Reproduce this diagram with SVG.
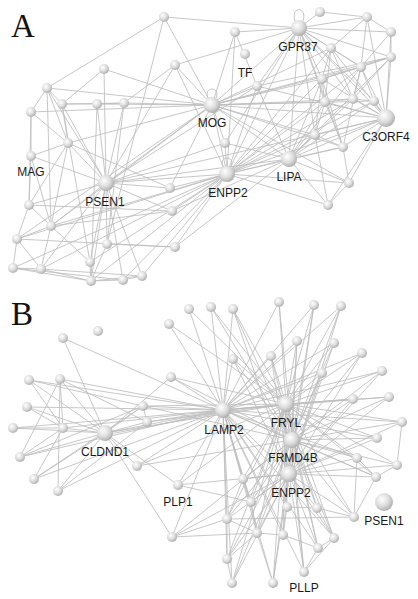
<svg xmlns="http://www.w3.org/2000/svg" width="418" height="599" viewBox="0 0 418 599">
<defs>
<radialGradient id="g" cx="0.38" cy="0.35" r="0.7">
<stop offset="0" stop-color="#ffffff"/>
<stop offset="0.55" stop-color="#dcdcdc"/>
<stop offset="1" stop-color="#a9a9a9"/>
</radialGradient>
</defs>
<style>
.e line{stroke:#bdbdbd;stroke-width:0.85}
.lp{fill:none;stroke:#bdbdbd;stroke-width:0.9}
circle{fill:url(#g)}
.lb{font-family:"Liberation Sans",Arial,sans-serif;font-size:12px;fill:#1a1a1a;text-anchor:middle}
.pl{font-family:"Liberation Serif","Times New Roman",serif;font-size:33px;fill:#111}
</style>
<rect width="418" height="599" fill="#fff"/>
<text class="pl" x="11" y="37">A</text>
<text class="pl" x="11" y="325">B</text>
<g id="connectors" class="e">
<!-- A: PSEN1 -->
<line x1="106" y1="183" x2="68" y2="143"/><line x1="106" y1="183" x2="31" y2="156"/><line x1="106" y1="183" x2="62" y2="104"/><line x1="106" y1="183" x2="97" y2="104"/><line x1="106" y1="183" x2="124" y2="103"/><line x1="106" y1="183" x2="47" y2="88"/><line x1="106" y1="183" x2="104" y2="69"/><line x1="106" y1="183" x2="175" y2="65"/><line x1="106" y1="183" x2="29" y2="205"/><line x1="106" y1="183" x2="51" y2="226"/><line x1="106" y1="183" x2="107" y2="244"/><line x1="106" y1="183" x2="90" y2="262"/><line x1="106" y1="183" x2="91" y2="281"/><line x1="106" y1="183" x2="123" y2="280"/><line x1="106" y1="183" x2="142" y2="276"/><line x1="106" y1="183" x2="170" y2="188"/><line x1="106" y1="183" x2="172" y2="211"/><line x1="106" y1="183" x2="212" y2="105"/><line x1="106" y1="183" x2="227" y2="174"/><line x1="106" y1="183" x2="289" y2="159"/><line x1="106" y1="183" x2="225" y2="143"/><line x1="106" y1="183" x2="257" y2="86"/><line x1="106" y1="183" x2="386" y2="118"/><line x1="106" y1="183" x2="41" y2="269"/>
<!-- A: MOG -->
<line x1="212" y1="105" x2="164" y2="17"/><line x1="212" y1="105" x2="175" y2="65"/><line x1="212" y1="105" x2="104" y2="69"/><line x1="212" y1="105" x2="47" y2="88"/><line x1="212" y1="105" x2="31" y2="112"/><line x1="212" y1="105" x2="124" y2="103"/><line x1="212" y1="105" x2="97" y2="104"/><line x1="212" y1="105" x2="68" y2="143"/><line x1="212" y1="105" x2="235" y2="32"/><line x1="212" y1="105" x2="257" y2="86"/><line x1="212" y1="105" x2="299" y2="28"/><line x1="212" y1="105" x2="331" y2="48"/><line x1="212" y1="105" x2="361" y2="67"/><line x1="212" y1="105" x2="322" y2="79"/><line x1="212" y1="105" x2="325" y2="102"/><line x1="212" y1="105" x2="353" y2="99"/><line x1="212" y1="105" x2="374" y2="101"/><line x1="212" y1="105" x2="386" y2="118"/><line x1="212" y1="105" x2="315" y2="135"/><line x1="212" y1="105" x2="225" y2="143"/><line x1="212" y1="105" x2="227" y2="174"/><line x1="212" y1="105" x2="289" y2="159"/><line x1="212" y1="105" x2="343" y2="147"/><line x1="212" y1="105" x2="391" y2="57"/><line x1="212" y1="105" x2="170" y2="188"/><line x1="212" y1="105" x2="51" y2="226"/><line x1="212" y1="105" x2="17" y2="239"/><line x1="212" y1="105" x2="349" y2="183"/>
<!-- A: ENPP2 -->
<line x1="227" y1="174" x2="225" y2="143"/><line x1="227" y1="174" x2="257" y2="86"/><line x1="227" y1="174" x2="170" y2="188"/><line x1="227" y1="174" x2="172" y2="211"/><line x1="227" y1="174" x2="175" y2="247"/><line x1="227" y1="174" x2="142" y2="276"/><line x1="227" y1="174" x2="123" y2="280"/><line x1="227" y1="174" x2="91" y2="281"/><line x1="227" y1="174" x2="41" y2="269"/><line x1="227" y1="174" x2="13" y2="268"/><line x1="227" y1="174" x2="17" y2="239"/><line x1="227" y1="174" x2="51" y2="226"/><line x1="227" y1="174" x2="90" y2="262"/><line x1="227" y1="174" x2="289" y2="159"/><line x1="227" y1="174" x2="386" y2="118"/><line x1="227" y1="174" x2="374" y2="101"/><line x1="227" y1="174" x2="353" y2="99"/><line x1="227" y1="174" x2="325" y2="102"/><line x1="227" y1="174" x2="322" y2="79"/><line x1="227" y1="174" x2="361" y2="67"/><line x1="227" y1="174" x2="343" y2="147"/><line x1="227" y1="174" x2="315" y2="135"/><line x1="227" y1="174" x2="349" y2="183"/><line x1="227" y1="174" x2="328" y2="205"/><line x1="227" y1="174" x2="299" y2="28"/><line x1="227" y1="174" x2="331" y2="48"/><line x1="227" y1="174" x2="175" y2="65"/><line x1="227" y1="174" x2="235" y2="32"/>
<!-- A: LIPA -->
<line x1="289" y1="159" x2="349" y2="183"/><line x1="289" y1="159" x2="328" y2="205"/><line x1="289" y1="159" x2="343" y2="147"/><line x1="289" y1="159" x2="315" y2="135"/><line x1="289" y1="159" x2="386" y2="118"/><line x1="289" y1="159" x2="353" y2="99"/><line x1="289" y1="159" x2="325" y2="102"/><line x1="289" y1="159" x2="322" y2="79"/><line x1="289" y1="159" x2="257" y2="86"/><line x1="289" y1="159" x2="299" y2="28"/><line x1="289" y1="159" x2="374" y2="101"/><line x1="289" y1="159" x2="361" y2="67"/><line x1="289" y1="159" x2="391" y2="57"/><line x1="289" y1="159" x2="225" y2="143"/><line x1="289" y1="159" x2="172" y2="211"/><line x1="289" y1="159" x2="175" y2="247"/>
<!-- A: GPR37 -->
<line x1="299" y1="28" x2="320" y2="12"/><line x1="299" y1="28" x2="235" y2="32"/><line x1="299" y1="28" x2="367" y2="17"/><line x1="299" y1="28" x2="391" y2="32"/><line x1="299" y1="28" x2="331" y2="48"/><line x1="299" y1="28" x2="391" y2="57"/><line x1="299" y1="28" x2="361" y2="67"/><line x1="299" y1="28" x2="322" y2="79"/><line x1="299" y1="28" x2="325" y2="102"/><line x1="299" y1="28" x2="353" y2="99"/><line x1="299" y1="28" x2="374" y2="101"/><line x1="299" y1="28" x2="386" y2="118"/><line x1="299" y1="28" x2="315" y2="135"/><line x1="299" y1="28" x2="257" y2="86"/><line x1="299" y1="28" x2="164" y2="17"/><line x1="299" y1="28" x2="175" y2="65"/><line x1="299" y1="28" x2="225" y2="143"/><line x1="299" y1="28" x2="343" y2="147"/>
<!-- A: C3ORF4 -->
<line x1="386" y1="118" x2="367" y2="17"/><line x1="386" y1="118" x2="391" y2="32"/><line x1="386" y1="118" x2="331" y2="48"/><line x1="386" y1="118" x2="391" y2="57"/><line x1="386" y1="118" x2="361" y2="67"/><line x1="386" y1="118" x2="322" y2="79"/><line x1="386" y1="118" x2="325" y2="102"/><line x1="386" y1="118" x2="353" y2="99"/><line x1="386" y1="118" x2="374" y2="101"/><line x1="386" y1="118" x2="315" y2="135"/><line x1="386" y1="118" x2="343" y2="147"/><line x1="386" y1="118" x2="349" y2="183"/><line x1="386" y1="118" x2="328" y2="205"/><line x1="386" y1="118" x2="257" y2="86"/>
<!-- A: right local -->
<line x1="367" y1="17" x2="391" y2="32"/><line x1="367" y1="17" x2="331" y2="48"/><line x1="367" y1="17" x2="361" y2="67"/><line x1="391" y1="32" x2="391" y2="57"/><line x1="391" y1="32" x2="361" y2="67"/><line x1="331" y1="48" x2="361" y2="67"/><line x1="331" y1="48" x2="322" y2="79"/><line x1="331" y1="48" x2="325" y2="102"/><line x1="391" y1="57" x2="361" y2="67"/><line x1="391" y1="57" x2="322" y2="79"/><line x1="361" y1="67" x2="322" y2="79"/><line x1="322" y1="79" x2="325" y2="102"/><line x1="325" y1="102" x2="353" y2="99"/><line x1="353" y1="99" x2="374" y2="101"/><line x1="361" y1="67" x2="374" y2="101"/><line x1="361" y1="67" x2="353" y2="99"/><line x1="315" y1="135" x2="343" y2="147"/><line x1="343" y1="147" x2="349" y2="183"/><line x1="349" y1="183" x2="328" y2="205"/><line x1="315" y1="135" x2="328" y2="205"/><line x1="235" y1="32" x2="257" y2="86"/><line x1="320" y1="12" x2="367" y2="17"/><line x1="322" y1="79" x2="315" y2="135"/><line x1="325" y1="102" x2="315" y2="135"/><line x1="331" y1="48" x2="353" y2="99"/><line x1="391" y1="57" x2="353" y2="99"/><line x1="391" y1="57" x2="257" y2="86"/><line x1="361" y1="67" x2="343" y2="147"/><line x1="325" y1="102" x2="343" y2="147"/><line x1="322" y1="79" x2="343" y2="147"/>
<!-- A: left local -->
<line x1="47" y1="88" x2="62" y2="104"/><line x1="47" y1="88" x2="31" y2="112"/><line x1="47" y1="88" x2="68" y2="143"/><line x1="62" y1="104" x2="68" y2="143"/><line x1="62" y1="104" x2="97" y2="104"/><line x1="97" y1="104" x2="124" y2="103"/><line x1="31" y1="112" x2="68" y2="143"/><line x1="31" y1="112" x2="31" y2="156"/><line x1="31" y1="112" x2="29" y2="205"/><line x1="31" y1="156" x2="29" y2="205"/><line x1="31" y1="156" x2="51" y2="226"/><line x1="29" y1="205" x2="51" y2="226"/><line x1="29" y1="205" x2="17" y2="239"/><line x1="51" y1="226" x2="17" y2="239"/><line x1="51" y1="226" x2="41" y2="269"/><line x1="17" y1="239" x2="13" y2="268"/><line x1="17" y1="239" x2="41" y2="269"/><line x1="13" y1="268" x2="41" y2="269"/><line x1="13" y1="268" x2="91" y2="281"/><line x1="41" y1="269" x2="91" y2="281"/><line x1="91" y1="281" x2="123" y2="280"/><line x1="123" y1="280" x2="142" y2="276"/><line x1="90" y1="262" x2="91" y2="281"/><line x1="90" y1="262" x2="51" y2="226"/><line x1="107" y1="244" x2="91" y2="281"/><line x1="68" y1="143" x2="31" y2="156"/><line x1="68" y1="143" x2="51" y2="226"/><line x1="68" y1="143" x2="29" y2="205"/><line x1="47" y1="88" x2="51" y2="226"/><line x1="62" y1="104" x2="90" y2="262"/><line x1="97" y1="104" x2="91" y2="281"/><line x1="124" y1="103" x2="107" y2="244"/><line x1="164" y1="17" x2="107" y2="244"/><line x1="104" y1="69" x2="62" y2="104"/><line x1="175" y1="65" x2="124" y2="103"/><line x1="68" y1="143" x2="170" y2="188"/><line x1="29" y1="205" x2="172" y2="211"/><line x1="51" y1="226" x2="172" y2="211"/><line x1="17" y1="239" x2="175" y2="247"/><line x1="13" y1="268" x2="123" y2="280"/><line x1="41" y1="269" x2="142" y2="276"/><line x1="107" y1="244" x2="175" y2="247"/><line x1="91" y1="281" x2="142" y2="276"/><line x1="62" y1="104" x2="124" y2="103"/><line x1="47" y1="88" x2="164" y2="17"/>
<!-- B: LAMP2 -->
<line x1="223" y1="410" x2="189" y2="309"/><line x1="223" y1="410" x2="169" y2="324"/><line x1="223" y1="410" x2="63" y2="338"/><line x1="223" y1="410" x2="171" y2="377"/><line x1="223" y1="410" x2="29" y2="380"/><line x1="223" y1="410" x2="60" y2="379"/><line x1="223" y1="410" x2="27" y2="407"/><line x1="223" y1="410" x2="143" y2="406"/><line x1="223" y1="410" x2="147" y2="422"/><line x1="223" y1="410" x2="13" y2="428"/><line x1="223" y1="410" x2="63" y2="428"/><line x1="223" y1="410" x2="105" y2="433"/><line x1="223" y1="412" x2="105" y2="435"/><line x1="223" y1="410" x2="211" y2="307"/><line x1="223" y1="410" x2="233" y2="309"/><line x1="223" y1="410" x2="279" y2="302"/><line x1="223" y1="410" x2="314" y2="305"/><line x1="223" y1="410" x2="341" y2="306"/><line x1="223" y1="410" x2="297" y2="341"/><line x1="223" y1="410" x2="334" y2="343"/><line x1="223" y1="410" x2="362" y2="353"/><line x1="223" y1="410" x2="233" y2="359"/><line x1="223" y1="410" x2="271" y2="356"/><line x1="223" y1="410" x2="382" y2="371"/><line x1="223" y1="410" x2="322" y2="373"/><line x1="223" y1="410" x2="353" y2="399"/><line x1="223" y1="410" x2="389" y2="397"/><line x1="223" y1="410" x2="402" y2="422"/><line x1="223" y1="410" x2="377" y2="438"/><line x1="223" y1="410" x2="20" y2="457"/><line x1="223" y1="410" x2="34" y2="479"/><line x1="223" y1="410" x2="58" y2="491"/><line x1="223" y1="410" x2="137" y2="466"/><line x1="223" y1="410" x2="178" y2="485"/><line x1="223" y1="410" x2="172" y2="537"/><line x1="223" y1="410" x2="357" y2="458"/><line x1="223" y1="410" x2="243" y2="479"/><line x1="223" y1="410" x2="376" y2="477"/><line x1="223" y1="410" x2="251" y2="502"/><line x1="223" y1="410" x2="287" y2="507"/><line x1="223" y1="410" x2="227" y2="519"/><line x1="223" y1="410" x2="257" y2="533"/><line x1="223" y1="410" x2="283" y2="535"/><line x1="223" y1="410" x2="334" y2="538"/><line x1="223" y1="410" x2="318" y2="548"/><line x1="223" y1="410" x2="227" y2="559"/><line x1="223" y1="410" x2="304" y2="572"/><line x1="223" y1="410" x2="232" y2="583"/><line x1="223" y1="410" x2="273" y2="583"/><line x1="223" y1="410" x2="286" y2="404"/><line x1="223" y1="410" x2="292" y2="440"/><line x1="223" y1="410" x2="289" y2="474"/>
<!-- B: FRYL -->
<line x1="286" y1="404" x2="189" y2="309"/><line x1="286" y1="404" x2="169" y2="324"/><line x1="286" y1="404" x2="171" y2="377"/><line x1="286" y1="404" x2="143" y2="406"/><line x1="286" y1="404" x2="147" y2="422"/><line x1="286" y1="404" x2="211" y2="307"/><line x1="286" y1="404" x2="233" y2="309"/><line x1="286" y1="404" x2="279" y2="302"/><line x1="286" y1="404" x2="314" y2="305"/><line x1="286" y1="404" x2="341" y2="306"/><line x1="286" y1="404" x2="297" y2="341"/><line x1="286" y1="404" x2="334" y2="343"/><line x1="286" y1="404" x2="362" y2="353"/><line x1="286" y1="404" x2="233" y2="359"/><line x1="286" y1="404" x2="271" y2="356"/><line x1="286" y1="404" x2="382" y2="371"/><line x1="286" y1="404" x2="322" y2="373"/><line x1="286" y1="404" x2="353" y2="399"/><line x1="286" y1="404" x2="389" y2="397"/><line x1="286" y1="404" x2="402" y2="422"/><line x1="286" y1="404" x2="377" y2="438"/><line x1="286" y1="404" x2="357" y2="458"/><line x1="286" y1="404" x2="397" y2="465"/><line x1="286" y1="404" x2="243" y2="479"/><line x1="286" y1="404" x2="376" y2="477"/><line x1="286" y1="404" x2="251" y2="502"/><line x1="286" y1="404" x2="287" y2="507"/><line x1="286" y1="404" x2="317" y2="508"/><line x1="286" y1="404" x2="227" y2="519"/><line x1="286" y1="404" x2="354" y2="517"/><line x1="286" y1="404" x2="257" y2="533"/><line x1="286" y1="404" x2="283" y2="535"/><line x1="286" y1="404" x2="334" y2="538"/><line x1="286" y1="404" x2="318" y2="548"/><line x1="286" y1="404" x2="227" y2="559"/><line x1="286" y1="404" x2="304" y2="572"/><line x1="286" y1="404" x2="232" y2="583"/><line x1="286" y1="404" x2="273" y2="583"/><line x1="286" y1="404" x2="105" y2="433"/><line x1="286" y1="404" x2="137" y2="466"/><line x1="286" y1="404" x2="178" y2="485"/>
<!-- B: FRMD4B -->
<line x1="292" y1="440" x2="211" y2="307"/><line x1="292" y1="440" x2="233" y2="309"/><line x1="292" y1="440" x2="279" y2="302"/><line x1="292" y1="440" x2="314" y2="305"/><line x1="292" y1="440" x2="341" y2="306"/><line x1="292" y1="440" x2="297" y2="341"/><line x1="292" y1="440" x2="334" y2="343"/><line x1="292" y1="440" x2="362" y2="353"/><line x1="292" y1="440" x2="233" y2="359"/><line x1="292" y1="440" x2="271" y2="356"/><line x1="292" y1="440" x2="382" y2="371"/><line x1="292" y1="440" x2="322" y2="373"/><line x1="292" y1="440" x2="353" y2="399"/><line x1="292" y1="440" x2="389" y2="397"/><line x1="292" y1="440" x2="402" y2="422"/><line x1="292" y1="440" x2="377" y2="438"/><line x1="292" y1="440" x2="357" y2="458"/><line x1="292" y1="440" x2="397" y2="465"/><line x1="292" y1="440" x2="243" y2="479"/><line x1="292" y1="440" x2="376" y2="477"/><line x1="292" y1="440" x2="251" y2="502"/><line x1="292" y1="440" x2="317" y2="508"/><line x1="292" y1="440" x2="227" y2="519"/><line x1="292" y1="440" x2="354" y2="517"/><line x1="292" y1="440" x2="257" y2="533"/><line x1="292" y1="440" x2="334" y2="538"/><line x1="292" y1="440" x2="318" y2="548"/><line x1="292" y1="440" x2="304" y2="572"/><line x1="292" y1="440" x2="273" y2="583"/><line x1="292" y1="440" x2="172" y2="537"/><line x1="292" y1="440" x2="137" y2="466"/><line x1="292" y1="440" x2="227" y2="559"/><line x1="292" y1="440" x2="232" y2="583"/><line x1="292" y1="440" x2="171" y2="377"/><line x1="292" y1="440" x2="143" y2="406"/>
<!-- B: ENPP2 -->
<line x1="289" y1="474" x2="233" y2="309"/><line x1="289" y1="474" x2="314" y2="305"/><line x1="289" y1="474" x2="341" y2="306"/><line x1="289" y1="474" x2="297" y2="341"/><line x1="289" y1="474" x2="334" y2="343"/><line x1="289" y1="474" x2="362" y2="353"/><line x1="289" y1="474" x2="382" y2="371"/><line x1="289" y1="474" x2="322" y2="373"/><line x1="289" y1="474" x2="353" y2="399"/><line x1="289" y1="474" x2="389" y2="397"/><line x1="289" y1="474" x2="402" y2="422"/><line x1="289" y1="474" x2="377" y2="438"/><line x1="289" y1="474" x2="397" y2="465"/><line x1="289" y1="474" x2="243" y2="479"/><line x1="289" y1="474" x2="251" y2="502"/><line x1="289" y1="474" x2="317" y2="508"/><line x1="289" y1="474" x2="227" y2="519"/><line x1="289" y1="474" x2="354" y2="517"/><line x1="289" y1="474" x2="257" y2="533"/><line x1="289" y1="474" x2="283" y2="535"/><line x1="289" y1="474" x2="334" y2="538"/><line x1="289" y1="474" x2="318" y2="548"/><line x1="289" y1="474" x2="227" y2="559"/><line x1="289" y1="474" x2="232" y2="583"/><line x1="289" y1="474" x2="273" y2="583"/><line x1="289" y1="474" x2="304" y2="572"/><line x1="289" y1="474" x2="172" y2="537"/><line x1="289" y1="474" x2="178" y2="485"/><line x1="289" y1="474" x2="233" y2="359"/><line x1="289" y1="474" x2="271" y2="356"/><line x1="289" y1="474" x2="357" y2="458"/><line x1="289" y1="474" x2="376" y2="477"/>
<!-- B: CLDND1 and left -->
<line x1="105" y1="433" x2="63" y2="338"/><line x1="105" y1="433" x2="29" y2="380"/><line x1="105" y1="433" x2="60" y2="379"/><line x1="105" y1="433" x2="27" y2="407"/><line x1="105" y1="433" x2="13" y2="428"/><line x1="105" y1="433" x2="63" y2="428"/><line x1="105" y1="433" x2="20" y2="457"/><line x1="105" y1="433" x2="34" y2="479"/><line x1="105" y1="433" x2="58" y2="491"/><line x1="105" y1="433" x2="143" y2="406"/><line x1="105" y1="433" x2="147" y2="422"/><line x1="105" y1="433" x2="137" y2="466"/><line x1="105" y1="433" x2="171" y2="377"/><line x1="105" y1="433" x2="178" y2="485"/><line x1="105" y1="433" x2="172" y2="537"/>
<line x1="63" y1="428" x2="60" y2="379"/><line x1="63" y1="428" x2="29" y2="380"/><line x1="60" y1="379" x2="20" y2="457"/><line x1="20" y1="457" x2="63" y2="428"/><line x1="34" y1="479" x2="63" y2="428"/><line x1="58" y1="491" x2="60" y2="379"/><line x1="27" y1="407" x2="63" y2="428"/><line x1="13" y1="428" x2="63" y2="428"/><line x1="60" y1="379" x2="147" y2="422"/><line x1="143" y1="406" x2="147" y2="422"/><line x1="34" y1="479" x2="143" y2="406"/><line x1="58" y1="491" x2="147" y2="422"/><line x1="20" y1="457" x2="143" y2="406"/><line x1="29" y1="380" x2="143" y2="406"/>
<!-- B: lower local -->
<line x1="172" y1="537" x2="257" y2="533"/><line x1="172" y1="537" x2="227" y2="519"/><line x1="178" y1="485" x2="251" y2="502"/><line x1="243" y1="479" x2="227" y2="519"/><line x1="227" y1="519" x2="227" y2="559"/><line x1="227" y1="559" x2="232" y2="583"/><line x1="251" y1="502" x2="257" y2="533"/><line x1="257" y1="533" x2="283" y2="535"/><line x1="283" y1="535" x2="318" y2="548"/><line x1="334" y1="538" x2="318" y2="548"/><line x1="317" y1="508" x2="354" y2="517"/><line x1="354" y1="517" x2="357" y2="458"/><line x1="357" y1="458" x2="376" y2="477"/><line x1="376" y1="477" x2="397" y2="465"/><line x1="397" y1="465" x2="402" y2="422"/><line x1="287" y1="507" x2="283" y2="535"/><line x1="227" y1="519" x2="257" y2="533"/><line x1="257" y1="533" x2="273" y2="583"/><line x1="318" y1="548" x2="304" y2="572"/><line x1="334" y1="538" x2="304" y2="572"/><line x1="317" y1="508" x2="334" y2="538"/><line x1="243" y1="479" x2="251" y2="502"/><line x1="287" y1="507" x2="317" y2="508"/><line x1="227" y1="519" x2="354" y2="517"/><line x1="227" y1="559" x2="257" y2="533"/><line x1="354" y1="517" x2="376" y2="477"/>
</g>
<g id="loops">
<path class="lp" d="M208 98 C203 86,221 86,216 98"/>
<path class="lp" d="M295 21 C290 6,308 6,303 21"/>
<path class="lp" d="M223 167 C218 155,236 155,231 167"/>
</g>
<g id="panelA-nodes">
<g id="a1"><circle cx="164" cy="17" r="5"/></g>
<g id="a2"><circle cx="175" cy="65" r="5"/></g>
<g id="a3"><circle cx="104" cy="69" r="5"/></g>
<g id="a4"><circle cx="47" cy="88" r="5"/></g>
<g id="a5"><circle cx="62" cy="104" r="5"/></g>
<g id="a6"><circle cx="97" cy="104" r="5"/></g>
<g id="a7"><circle cx="124" cy="103" r="5"/></g>
<g id="a8"><circle cx="31" cy="112" r="5"/></g>
<g id="a9"><circle cx="68" cy="143" r="5"/></g>
<g id="a10"><circle cx="320" cy="12" r="5"/></g>
<g id="a11"><circle cx="235" cy="32" r="5"/></g>
<g id="a12"><circle cx="367" cy="17" r="5"/></g>
<g id="a13"><circle cx="391" cy="32" r="5"/></g>
<g id="a14"><circle cx="331" cy="48" r="5"/></g>
<g id="a15"><circle cx="391" cy="57" r="5"/></g>
<g id="a16"><circle cx="361" cy="67" r="5"/></g>
<g id="a17"><circle cx="322" cy="79" r="5"/></g>
<g id="a18"><circle cx="257" cy="86" r="5"/></g>
<g id="a19"><circle cx="325" cy="102" r="5"/></g>
<g id="a20"><circle cx="353" cy="99" r="5"/></g>
<g id="a21"><circle cx="374" cy="101" r="5"/></g>
<g id="a22"><circle cx="315" cy="135" r="5"/></g>
<g id="a23"><circle cx="225" cy="143" r="5"/></g>
<g id="a24"><circle cx="343" cy="147" r="5"/></g>
<g id="a26"><circle cx="170" cy="188" r="5"/></g>
<g id="a27"><circle cx="29" cy="205" r="5"/></g>
<g id="a28"><circle cx="172" cy="211" r="5"/></g>
<g id="a29"><circle cx="51" cy="226" r="5"/></g>
<g id="a30"><circle cx="17" cy="239" r="5"/></g>
<g id="a31"><circle cx="107" cy="244" r="5"/></g>
<g id="a32"><circle cx="175" cy="247" r="5"/></g>
<g id="a33"><circle cx="90" cy="262" r="5"/></g>
<g id="a34"><circle cx="13" cy="268" r="5"/></g>
<g id="a35"><circle cx="41" cy="269" r="5"/></g>
<g id="a36"><circle cx="91" cy="281" r="5"/></g>
<g id="a37"><circle cx="123" cy="280" r="5"/></g>
<g id="a38"><circle cx="142" cy="276" r="5"/></g>
<g id="a39"><circle cx="349" cy="183" r="5"/></g>
<g id="a40"><circle cx="328" cy="205" r="5"/></g>
<g id="A-TF"><circle cx="245" cy="54" r="5"/><text class="lb" x="245" y="77">TF</text></g>
<g id="A-MAG"><circle cx="31" cy="156" r="5"/><text class="lb" x="31" y="176">MAG</text></g>
<g id="A-GPR37"><circle cx="299" cy="28" r="8"/><text class="lb" x="298" y="51">GPR37</text></g>
<g id="A-MOG"><circle cx="212" cy="105" r="8"/><text class="lb" x="212" y="127">MOG</text></g>
<g id="A-C3ORF4"><circle cx="386" cy="118" r="9"/><text class="lb" x="386" y="141">C3ORF4</text></g>
<g id="A-PSEN1"><circle cx="106" cy="183" r="8"/><text class="lb" x="105" y="206">PSEN1</text></g>
<g id="A-LIPA"><circle cx="289" cy="159" r="8"/><text class="lb" x="289" y="181">LIPA</text></g>
<g id="A-ENPP2"><circle cx="227" cy="174" r="8"/><text class="lb" x="228" y="197">ENPP2</text></g>
</g>
<g id="panelB-nodes">
<g id="b1"><circle cx="189" cy="309" r="5"/></g>
<g id="b2"><circle cx="169" cy="324" r="5"/></g>
<g id="b3"><circle cx="98" cy="331" r="5"/></g>
<g id="b4"><circle cx="63" cy="338" r="5"/></g>
<g id="b5"><circle cx="171" cy="377" r="5"/></g>
<g id="b6"><circle cx="29" cy="380" r="5"/></g>
<g id="b7"><circle cx="60" cy="379" r="5"/></g>
<g id="b8"><circle cx="27" cy="407" r="5"/></g>
<g id="b9"><circle cx="143" cy="406" r="5"/></g>
<g id="b10"><circle cx="147" cy="422" r="5"/></g>
<g id="b11"><circle cx="13" cy="428" r="5"/></g>
<g id="b12"><circle cx="63" cy="428" r="5"/></g>
<g id="b13"><circle cx="211" cy="307" r="5"/></g>
<g id="b14"><circle cx="233" cy="309" r="5"/></g>
<g id="b15"><circle cx="279" cy="302" r="5"/></g>
<g id="b16"><circle cx="314" cy="305" r="5"/></g>
<g id="b17"><circle cx="341" cy="306" r="5"/></g>
<g id="b18"><circle cx="297" cy="341" r="5"/></g>
<g id="b19"><circle cx="334" cy="343" r="5"/></g>
<g id="b20"><circle cx="362" cy="353" r="5"/></g>
<g id="b21"><circle cx="233" cy="359" r="5"/></g>
<g id="b22"><circle cx="271" cy="356" r="5"/></g>
<g id="b23"><circle cx="382" cy="371" r="5"/></g>
<g id="b24"><circle cx="322" cy="373" r="5"/></g>
<g id="b25"><circle cx="353" cy="399" r="5"/></g>
<g id="b26"><circle cx="389" cy="397" r="5"/></g>
<g id="b27"><circle cx="402" cy="422" r="5"/></g>
<g id="b28"><circle cx="377" cy="438" r="5"/></g>
<g id="b29"><circle cx="20" cy="457" r="5"/></g>
<g id="b30"><circle cx="34" cy="479" r="5"/></g>
<g id="b31"><circle cx="58" cy="491" r="5"/></g>
<g id="b32"><circle cx="137" cy="466" r="5"/></g>
<g id="b33"><circle cx="172" cy="537" r="5"/></g>
<g id="b34"><circle cx="357" cy="458" r="5"/></g>
<g id="b35"><circle cx="397" cy="465" r="5"/></g>
<g id="b36"><circle cx="243" cy="479" r="5"/></g>
<g id="b37"><circle cx="376" cy="477" r="5"/></g>
<g id="b38"><circle cx="251" cy="502" r="5"/></g>
<g id="b39"><circle cx="287" cy="507" r="5"/></g>
<g id="b40"><circle cx="317" cy="508" r="5"/></g>
<g id="b41"><circle cx="227" cy="519" r="5"/></g>
<g id="b42"><circle cx="354" cy="517" r="5"/></g>
<g id="b43"><circle cx="257" cy="533" r="5"/></g>
<g id="b44"><circle cx="283" cy="535" r="5"/></g>
<g id="b45"><circle cx="334" cy="538" r="5"/></g>
<g id="b46"><circle cx="318" cy="548" r="5"/></g>
<g id="b47"><circle cx="227" cy="559" r="5"/></g>
<g id="b48"><circle cx="232" cy="583" r="5"/></g>
<g id="b49"><circle cx="273" cy="583" r="5"/></g>
<g id="B-PLP1"><circle cx="178" cy="485" r="5"/><text class="lb" x="178" y="506">PLP1</text></g>
<g id="B-PLLP"><circle cx="304" cy="572" r="5"/><text class="lb" x="304" y="592">PLLP</text></g>
<g id="B-CLDND1"><circle cx="105" cy="433" r="8"/><text class="lb" x="105" y="456">CLDND1</text></g>
<g id="B-LAMP2"><circle cx="223" cy="410" r="8"/><text class="lb" x="224" y="434">LAMP2</text></g>
<g id="B-FRYL"><circle cx="286" cy="404" r="8"/><text class="lb" x="286" y="427">FRYL</text></g>
<g id="B-FRMD4B"><circle cx="292" cy="440" r="8"/><text class="lb" x="293" y="462">FRMD4B</text></g>
<g id="B-ENPP2"><circle cx="289" cy="474" r="8"/><text class="lb" x="291" y="497">ENPP2</text></g>
<g id="B-PSEN1"><circle cx="384" cy="502" r="9"/><text class="lb" x="384" y="525">PSEN1</text></g>
</g>
</svg>
